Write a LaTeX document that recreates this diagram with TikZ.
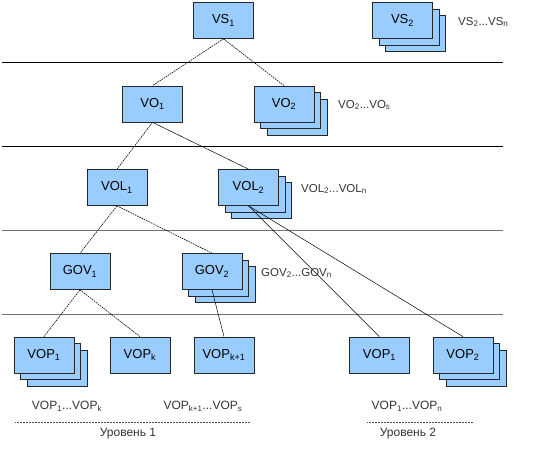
\documentclass[tikz,border=0pt]{standalone}
\usepackage{fontspec}
\setmainfont{Liberation Sans}
\newcommand{\sbs}[1]{\textsubscript{#1}}
\begin{document}
\begin{tikzpicture}[x=1pt,y=-1pt,
  box/.style={draw=black!85,line width=0.7pt,fill={rgb,255:red,153;green,204;blue,255},minimum width=60pt,minimum height=36pt,inner sep=0pt,font=\fontsize{13}{15}\selectfont},
  sep/.style={line width=0.7pt,draw=black},
  sepg/.style={line width=0.6pt,draw=black!55},
  dot/.style={line width=0.6pt,dash pattern=on 1.6pt off 0.9pt},
  sol/.style={line width=0.5pt},
  lbl/.style={font=\fontsize{11.5}{13}\selectfont,inner sep=0pt,anchor=west,text=black!80},
  bl/.style={font=\fontsize{12}{14}\selectfont,inner sep=0pt,text=black!80},
  uline/.style={line width=0.5pt,densely dotted,draw=black!70}]
\useasboundingbox (0,0) rectangle (533,449);
% separators
\draw[sep] (2,62) -- (503,62);
\draw[sep] (2,146) -- (503,146);
\draw[sepg] (2,230) -- (503,230);
\draw[sepg] (2,314) -- (503,314);
% nodes
\node[box] (vs1) at (223.5,20.5) {VS\sbs{1}};
\node[box] (vs2b2) at (415.5,33.5) {};
\node[box] (vs2b1) at (409,27) {};
\node[box] (vs2) at (402.5,20.5) {VS\sbs{2}};
\node[lbl] (lvs) at (458,22) {VS\sbs{2}...VS\sbs{n}};
\node[box] (vo1) at (152.5,104) {VO\sbs{1}};
\node[box] (vo2b2) at (297,117) {};
\node[box] (vo2b1) at (290.5,110.5) {};
\node[box] (vo2) at (284,104) {VO\sbs{2}};
\node[lbl] (lvo) at (338,105) {VO\sbs{2}...VO\sbs{s}};
\node[box] (vol1) at (117,187.5) {VOL\sbs{1}};
\node[box] (vol2b2) at (261.5,200.5) {};
\node[box] (vol2b1) at (255,194) {};
\node[box] (vol2) at (248.5,187.5) {VOL\sbs{2}};
\node[lbl] (lvol) at (301,189) {VOL\sbs{2}...VOL\sbs{n}};
\node[box] (gov1) at (80,271.5) {GOV\sbs{1}};
\node[box] (gov2b2) at (225,284.5) {};
\node[box] (gov2b1) at (218.5,278) {};
\node[box] (gov2) at (212,271.5) {GOV\sbs{2}};
\node[lbl] (lgov) at (261,273) {GOV\sbs{2}...GOV\sbs{n}};
\node[box] (vopab2) at (57,368) {};
\node[box] (vopab1) at (50.5,361.5) {};
\node[box] (vopa) at (44,355) {VOP\sbs{1}};
\node[box] (vopk) at (140,355) {VOP\sbs{k}};
\node[box] (vopk1) at (224,355) {VOP\sbs{k+1}};
\node[box] (vopr1) at (379.5,355) {VOP\sbs{1}};
\node[box] (vopr2b2) at (476,368) {};
\node[box] (vopr2b1) at (469.5,361.5) {};
\node[box] (vopr2) at (463,355) {VOP\sbs{2}};
% connectors
\draw[dot] (vs1.south) -- (vo1.north);
\draw[dot] (vs1.south) -- (vo2.north);
\draw[dot] (vo1.south) -- (vol1.north);
\draw[sol] (vo1.south) -- (vol2.north);
\draw[dot] (vol1.south) -- (gov1.north);
\draw[dot] (vol1.south) -- (gov2.north);
\draw[sol] (vol2.south) -- (vopr1.north);
\draw[sol] (vol2.south) -- (vopr2.north);
\draw[dot] (gov1.south) -- (vopa.north);
\draw[dot] (gov1.south) -- (vopk.north);
\draw[sol] (gov2.south) -- (vopk1.north);
% bottom labels
\node[bl] (b1) at (67,406) {VOP\sbs{1}...VOP\sbs{k}};
\node[bl] (b2) at (203,406) {VOP\sbs{k+1}...VOP\sbs{s}};
\coordinate (u1a) at (15,422);
\coordinate (u1b) at (250,422);
\draw[uline] (u1a) -- (u1b);
\node[bl] (lev1) at (128,434) {Уровень 1};
\node[bl] (b3) at (407,406) {VOP\sbs{1}...VOP\sbs{n}};
\coordinate (u2a) at (367,422);
\coordinate (u2b) at (473,422);
\draw[uline] (u2a) -- (u2b);
\node[bl] (lev2) at (408,434) {Уровень 2};
\end{tikzpicture}
\end{document}
